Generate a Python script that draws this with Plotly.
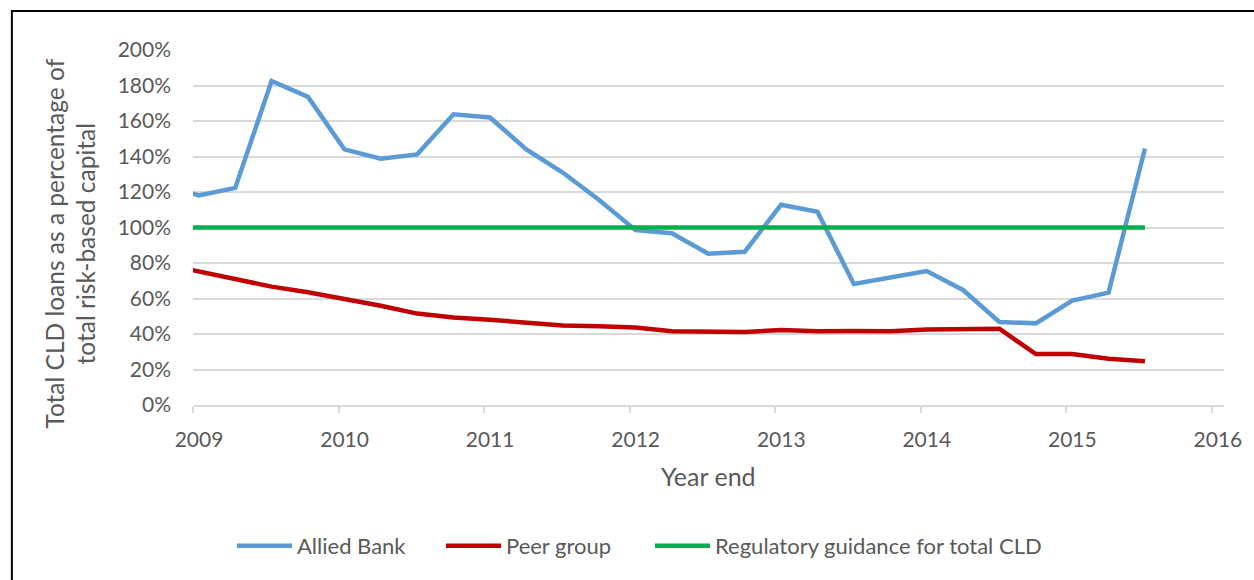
import plotly.graph_objects as go

W, H = 1254, 580
L, R, T, B = 193, 25, 50, 175

quarters = [2008.79, 2009.04, 2009.29, 2009.54, 2009.79, 2010.04, 2010.29, 2010.54,
            2010.79, 2011.04, 2011.29, 2011.54, 2011.79, 2012.04, 2012.29, 2012.54,
            2012.79, 2013.04, 2013.29, 2013.54, 2013.79, 2014.04, 2014.29, 2014.54,
            2014.79, 2015.04, 2015.29, 2015.54]
allied_bank = [124.0, 118.1, 122.3, 182.5, 173.6, 144.0, 138.8, 141.2,
               163.8, 162.0, 144.0, 131.0, 115.5, 98.5, 96.8, 85.2,
               86.3, 112.8, 108.9, 68.2, 71.8, 75.5, 64.8, 46.8,
               46.0, 58.8, 63.3, 144.5]
peer_group = [79.5, 75.4, 70.9, 66.7, 63.5, 59.8, 55.9, 51.5,
              49.3, 48.0, 46.1, 44.8, 44.3, 43.6, 41.5, 41.0,
              41.1, 42.2, 41.5, 41.7, 41.6, 42.6, 42.8, 43.0,
              28.7, 28.7, 26.0, 24.7]
guidance = [100] * len(quarters)

year_ticks = [2009, 2010, 2011, 2012, 2013, 2014, 2015, 2016]
pct_ticks = [0, 20, 40, 60, 80, 100, 120, 140, 160, 180, 200]
pct_labels = ["0%", "20%", "40%", "60%", "80%", "100%", "120%", "140%",
              "160%", "180%", "200%"]

FONT = "Lato"
TXT = "#595959"
GRID = "#D9D9D9"

fig = go.Figure()
fig.add_trace(go.Scatter(x=quarters, y=allied_bank, mode="lines", name="Allied Bank",
                         line=dict(color="#5B9BD5", width=4.5), legend="legend"))
fig.add_trace(go.Scatter(x=quarters, y=peer_group, mode="lines", name="Peer group",
                         line=dict(color="#C00000", width=4.5), legend="legend2"))
fig.add_trace(go.Scatter(x=quarters, y=guidance, mode="lines",
                         name="Regulatory guidance for total CLD",
                         line=dict(color="#00B050", width=4.5), legend="legend3"))

pw = W - L - R
ph = H - T - B

def px_x(p):
    return (p - L) / pw

def px_y(p):
    return (H - B - p) / ph

def leg(xpx):
    return dict(orientation="h", xref="container", yref="container",
                x=xpx / W, y=1 - 546 / H, xanchor="left", yanchor="middle",
                font=dict(size=22, color=TXT, family=FONT),
                itemwidth=55, bgcolor="rgba(0,0,0,0)")

fig.update_layout(
    width=W, height=H,
    margin=dict(l=L, r=R, t=T, b=B),
    paper_bgcolor="white", plot_bgcolor="white",
    font=dict(family=FONT, color=TXT, size=21),
    showlegend=True,
    legend=leg(232), legend2=leg(441), legend3=leg(650),
    xaxis=dict(range=[2009, 2016.083], tickvals=year_ticks, showgrid=False,
               showline=True, linecolor=GRID, linewidth=1.5,
               ticks="outside", ticklen=6, tickcolor=GRID, tickwidth=1.5,
               tickfont=dict(size=21, color=TXT, family=FONT),
               ticklabelstandoff=9, ticklabelshift=6, zeroline=False),
    yaxis=dict(range=[0, 200], tickvals=pct_ticks, ticktext=pct_labels,
               showgrid=True, gridcolor=GRID, gridwidth=1.5, zeroline=False,
               showline=False, ticks="",
               tickfont=dict(size=21, color=TXT, family=FONT),
               ticklabelstandoff=21),
    shapes=[dict(type="rect", xref="paper", yref="paper",
                 x0=px_x(11), x1=px_x(1275), y0=px_y(600), y1=px_y(11),
                 line=dict(color="black", width=2), fillcolor="rgba(0,0,0,0)",
                 layer="above")],
    annotations=[
        dict(text="Year end", xref="paper", yref="paper", x=0.5, y=px_y(476),
             xanchor="center", yanchor="middle", showarrow=False,
             font=dict(size=25, color=TXT, family=FONT)),
        dict(text="Total CLD loans as a percentage of<br>total risk-based capital",
             xref="paper", yref="paper", x=px_x(70), y=px_y(244),
             xanchor="center", yanchor="middle", showarrow=False, textangle=-90,
             font=dict(size=24.5, color=TXT, family=FONT)),
    ],
)

fig.write_html("out.html", config={"displayModeBar": False},
               post_script="document.body.style.margin='0';")
